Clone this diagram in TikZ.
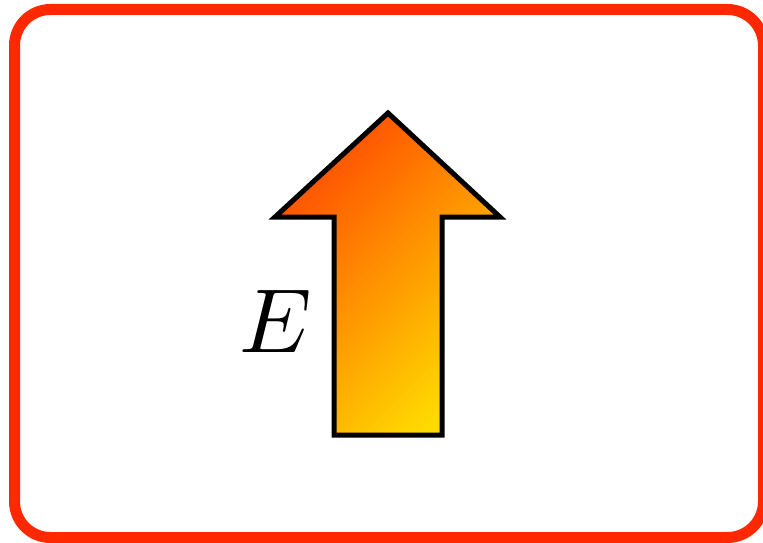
\documentclass[tikz,border=0pt]{standalone}
\usetikzlibrary{shadings}
\definecolor{framered}{RGB}{255,40,0}
\definecolor{arrowtop}{RGB}{255,78,0}
\definecolor{arrowbot}{RGB}{255,218,0}
\tikzset{
  frame/.style={draw=framered, line width=11pt, rounded corners=36pt},
  bigarrow/.style={draw=black, line width=5pt, line join=miter, shading=axis, top color=arrowtop, bottom color=arrowbot, shading angle=45},
  lbl/.style={inner sep=0pt}
}
\begin{document}
\begin{tikzpicture}[x=1pt,y=-1pt]
  \useasboundingbox (0,0) rectangle (763,543);
  \begin{scope}
    \clip (0,0) rectangle (763,543);
    \draw[frame] (14.5,9.5) rectangle (763.5,537.5);
  \end{scope}
  \path[bigarrow] (388,113) -- (500,217) -- (442,217) -- (442,435) -- (334,435) -- (334,217) -- (275,217) -- cycle;
  \node[lbl] (E) at (276,321) {\scalebox{9.1}{$E$}};
\end{tikzpicture}
\end{document}
